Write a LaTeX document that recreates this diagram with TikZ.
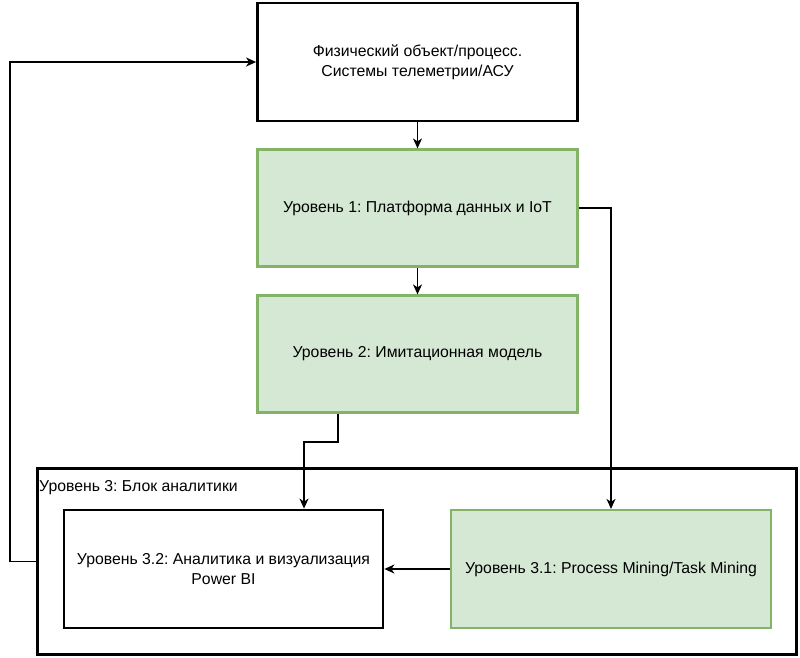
\documentclass[tikz,border=0pt]{standalone}
\usepackage{fontspec}
\setmainfont{Liberation Sans}
\usetikzlibrary{arrows.meta}
\definecolor{gfill}{HTML}{D5E8D4}
\definecolor{gline}{HTML}{82B366}
\frenchspacing
\begin{document}
\begin{tikzpicture}[x=1pt,y=-1pt,
  box/.style={draw=black,line width=2.8pt,fill=white,inner sep=0pt,align=center,font=\fontsize{15.8}{20}\selectfont},
  gbox/.style={draw=gline,line width=2.2pt,fill=gfill,inner sep=0pt,align=center,font=\fontsize{15.8}{20}\selectfont},
  arr/.style={line width=1.4pt,-{Stealth[length=10pt,width=9pt,inset=3pt]}},
  txt/.style={inner sep=0pt,font=\fontsize{15.8}{20}\selectfont}]
\useasboundingbox (0,0) rectangle (800,657);
\fill[white] (0,0) rectangle (800,657);
\node[box,minimum width=320pt,minimum height=118pt] (Top) at (417.5,62) {Физический объект/процесс.\\Системы телеметрии/АСУ};
\node[gbox,minimum width=320pt,minimum height=117pt] (L1) at (417.5,208) {Уровень 1: Платформа данных и IoT};
\node[gbox,minimum width=320pt,minimum height=117pt] (L2) at (417.5,354) {Уровень 2: Имитационная модель};
\node[box,minimum width=759pt,minimum height=186pt] (Out) at (417,561.5) {};
\node[txt,anchor=west] (L3lab) at (39,488) {Уровень 3: Блок аналитики};
\node[box,minimum width=319pt,minimum height=118pt] (L32) at (223.5,569) {Уровень 3.2: Аналитика и визуализация\\Power BI};
\node[gbox,minimum width=320pt,minimum height=118pt] (L31) at (611,569) {Уровень 3.1: Process Mining/Task Mining};
\coordinate (b1) at (338,442);
\coordinate (b2) at (304,442);
\coordinate (c1) at (10,62);
\draw[arr] (Top.south) -- (L1.north);
\draw[arr] (L1.south) -- (L2.north);
\draw[arr] (L2.south -| b1) -- (b1) -- (b2) -- (L32.north -| b2);
\draw[arr] (L1.east) -| (L31.north);
\draw[arr] (L31.west) -- (L32.east);
\draw[arr] (Out.west) -| (c1) -- (Top.west);
\end{tikzpicture}
\end{document}
